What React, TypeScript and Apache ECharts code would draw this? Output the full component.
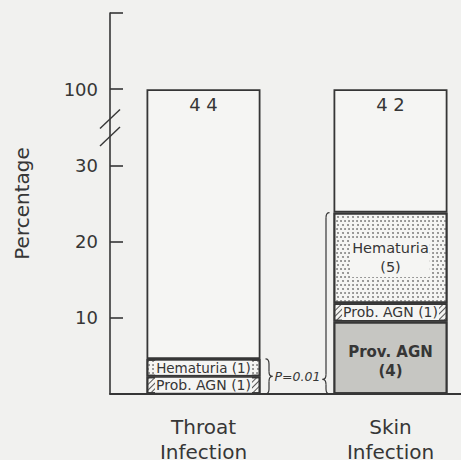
import React, { useEffect, useRef } from "react";
import * as echarts from "echarts";

// ---- data ----
const categories = ["Throat\nInfection", "Skin\nInfection"];
const totals = [44, 42]; // number of patients per group (printed on top)
const provAGNPct = [0, 9.5];
const probAGNPct = [2.3, 2.4];
const hematuriaPct = [2.3, 11.9];
const provAGNLabels = ["", "Prov. AGN\n(4)"];
const probAGNLabels = ["Prob. AGN (1)", "Prob. AGN (1)"];
const hematuriaLabels = ["Hematuria (1)", "Hematuria\n(5)"];
const pValueText = "P=0.01";
const yAxisName = "Percentage";

// broken axis: percentages 35..95 are cut out
const BREAK_LO = 35;
const BREAK_HI = 95;
const toAxis = (p: number) => (p <= BREAK_LO ? p : p - (BREAK_HI - BREAK_LO));
const fromAxis = (v: number) => (v <= BREAK_LO ? v : v + (BREAK_HI - BREAK_LO));

const INK = "#363636";
const PAPER = "#f1f1ef";
const BARBG = "#f5f5f3";
const FONT = "DejaVu Sans";

export default function App() {
  const ref = useRef<HTMLDivElement>(null);
  useEffect(() => {
    if (!ref.current) return;
    document.body.style.margin = "0";
    const chart = echarts.init(ref.current, undefined, { renderer: "svg" });
    const sums = categories.map((_, i) => provAGNPct[i] + probAGNPct[i] + hematuriaPct[i]);
    const rest = categories.map((_, i) => toAxis(100) - toAxis(sums[i]));
    const border = { borderColor: INK, borderWidth: 1.8 };
    const lbl = (size: number, extra: any = {}) => ({
      show: true,
      position: "inside",
      fontFamily: FONT,
      fontSize: size,
      color: INK,
      ...extra,
    });
    chart.setOption({
      animation: false,
      backgroundColor: PAPER,
      grid: { left: 110, top: 13, width: 374, height: 381, outerBoundsMode: "none", containLabel: false },
      xAxis: {
        type: "category",
        data: categories,
        axisLine: { lineStyle: { color: INK, width: 1.8 } },
        axisTick: { show: false },
        axisLabel: { fontFamily: FONT, fontSize: 20, lineHeight: 25, margin: 20, color: INK },
      },
      yAxis: {
        type: "value",
        min: 0,
        max: toAxis(110),
        interval: 10,
        name: yAxisName,
        nameLocation: "middle",
        nameGap: 78,
        nameRotate: 90,
        nameTextStyle: { fontFamily: FONT, fontSize: 20, color: INK },
        axisLine: { show: true, lineStyle: { color: INK, width: 1.6 } },
        axisTick: { show: true, inside: true, length: 13, lineStyle: { color: INK, width: 1.6 } },
        splitLine: { show: false },
        axisLabel: {
          fontFamily: FONT,
          fontSize: 18,
          margin: 12,
          color: INK,
          formatter: (v: number) => (v === 0 || v === toAxis(110) ? "" : String(fromAxis(v))),
        },
      },
      series: [
        {
          name: "Prov. AGN",
          type: "bar",
          stack: "a",
          barWidth: 114,
          data: provAGNPct.map((v, i) => ({
            value: v,
            label: lbl(15, { fontWeight: "bold", lineHeight: 19, offset: [0, 4], formatter: provAGNLabels[i] }),
          })),
          itemStyle: {
            color: "#c6c6c2",
            ...border,
            decal: {
              symbol: "circle",
              symbolSize: 1,
              color: "rgba(90,90,90,0.45)",
              dashArrayX: [[1, 6, 1, 9], [0, 3, 1, 12]],
              dashArrayY: [1, 3],
            },
          },
        },
        {
          name: "Prob. AGN",
          type: "bar",
          stack: "a",
          data: probAGNPct.map((v, i) => ({
            value: v,
            label: lbl(14, { backgroundColor: BARBG, padding: [0, 1], lineHeight: 15, formatter: probAGNLabels[i] }),
          })),
          itemStyle: {
            color: BARBG,
            ...border,
            decal: {
              symbol: "rect",
              symbolSize: 1,
              color: "#555",
              dashArrayX: [1, 0],
              dashArrayY: [1, 3],
              rotation: -Math.PI / 4,
            },
          },
        },
        {
          name: "Hematuria",
          type: "bar",
          stack: "a",
          data: hematuriaPct.map((v, i) => ({
            value: v,
            label: lbl(i === 0 ? 13.5 : 14.5, {
              backgroundColor: BARBG,
              padding: [0, 1],
              lineHeight: i === 0 ? 14 : 19,
              formatter: hematuriaLabels[i],
            }),
          })),
          itemStyle: {
            color: BARBG,
            ...border,
            decal: {
              symbol: "circle",
              symbolSize: 0.8,
              color: "#666",
              dashArrayX: [[1.5, 1.8], [0, 1.65, 1.5, 0.15]],
              dashArrayY: [1.5, 1.8],
            },
          },
        },
        {
          name: "Total",
          type: "bar",
          stack: "a",
          data: rest.map((v, i) => ({
            value: v,
            label: {
              show: true,
              position: "insideTop",
              distance: 6,
              fontFamily: FONT,
              fontSize: 18,
              color: INK,
              formatter: String(totals[i]).split("").join(" "),
            },
          })),
          itemStyle: { color: BARBG, ...border },
        },
      ],
    });

    // annotations computed from the chart's own scales
    const px = (cat: number, val: number) => chart.convertToPixel({ gridIndex: 0 }, [cat, val]) as number[];
    const half = 57;
    const [tx, y0] = px(0, 0);
    const [sx] = px(1, 0);
    const axX = 110;
    const yThroatTop = px(0, toAxis(sums[0]))[1];
    const ySkinTop = px(1, toAxis(sums[1]))[1];
    const tipY = (yThroatTop + y0) / 2;
    const stroke = { stroke: INK, lineWidth: 1.2, fill: "none" };
    const brace = (x0: number, y1: number, y2: number, ty: number, w: number) => {
      const xm = x0 + w / 2;
      const xt = x0 + w;
      const r = Math.min(5, (ty - y1) / 2, (y2 - ty) / 2);
      const q = (a: number, b: number, c: number, d: number, e: number, f: number) => ({
        type: "bezierCurve",
        shape: { x1: a, y1: b, x2: c, y2: d, cpx1: e, cpy1: f },
        style: stroke,
        silent: true,
      });
      const l = (a: number, b: number, c: number, d: number) => ({
        type: "line",
        shape: { x1: a, y1: b, x2: c, y2: d },
        style: stroke,
        silent: true,
      });
      return [
        q(x0, y1, xm, y1 + r, xm, y1),
        l(xm, y1 + r, xm, ty - r),
        q(xm, ty - r, xt, ty, xm, ty),
        q(xt, ty, xm, ty + r, xm, ty),
        l(xm, ty + r, xm, y2 - r),
        q(xm, y2 - r, x0, y2, xm, y2),
      ];
    };
    const yb1 = px(0, BREAK_LO + 1.1)[1];
    const yb2 = px(0, BREAK_LO - 1.2)[1];
    chart.setOption({
      graphic: [
        { type: "rect", shape: { x: axX - 3, y: yb1, width: 6, height: yb2 - yb1 }, style: { fill: PAPER }, silent: true },
        { type: "line", shape: { x1: axX - 10, y1: yb1 + 9.5, x2: axX + 10, y2: yb1 - 9.5 }, style: { stroke: INK, lineWidth: 1.4 }, silent: true },
        { type: "line", shape: { x1: axX - 10, y1: yb2 + 9.5, x2: axX + 10, y2: yb2 - 9.5 }, style: { stroke: INK, lineWidth: 1.4 }, silent: true },
        ...brace(tx + half + 5, yThroatTop, y0, tipY, 7),
        ...brace(sx - half - 4, ySkinTop, y0, tipY + 3, -7),
        {
          type: "text",
          x: (tx + half + 12 + sx - half - 11) / 2,
          y: tipY,
          style: {
            text: pValueText,
            fontFamily: FONT,
            fontStyle: "italic",
            fontSize: 12.5,
            fill: INK,
            align: "center",
            verticalAlign: "middle",
          },
          silent: true,
        },
      ],
    });
    return () => chart.dispose();
  }, []);
  return (
    <div
      ref={ref}
      style={{ position: "absolute", left: 0, top: 0, width: 461, height: 460, background: PAPER }}
    />
  );
}
